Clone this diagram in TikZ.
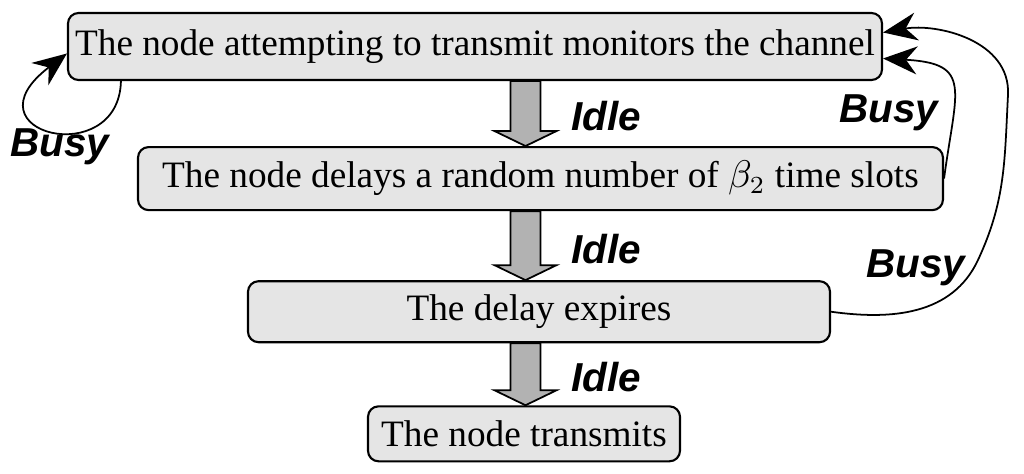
\documentclass[tikz,border=0pt]{standalone}
\usepackage{fontspec}
\setmainfont{Liberation Serif}
\newfontfamily\labelfont{Liberation Sans}
\usetikzlibrary{arrows.meta,positioning,calc}
\definecolor{boxgray}{RGB}{229,229,229}
\definecolor{arrowgray}{RGB}{178,178,178}
\tikzset{
stepbox/.style={draw,line width=0.6pt,fill=boxgray,rounded corners=3pt,inner sep=2pt,font=\fontsize{10.6}{12}\selectfont},
blockarrow/.style={draw,line width=0.5pt,fill=arrowgray},
condlabel/.style={inner sep=1pt,font=\labelfont\fontsize{11.5}{13}\selectfont\bfseries\itshape},
busyline/.style={-{Stealth[length=3.4mm,width=2.8mm]},line width=0.5pt}
}
\newcommand{\idlearrow}[2]{%
\draw[blockarrow] let \p1=(#1 -| axis), \p2=(#2 -| axis) in
(\x1-0.15cm,\y1) -- (\x1+0.15cm,\y1) -- (\x1+0.15cm,\y2+0.15cm) -- (\x1+0.31cm,\y2+0.15cm)
-- (\x1,\y2) -- (\x1-0.31cm,\y2+0.15cm) -- (\x1-0.15cm,\y2+0.15cm) -- cycle;}

\begin{document}
\begin{tikzpicture}
\useasboundingbox (0,0) rectangle (10.24,-4.74);
\coordinate (axis) at (5.255,0);
\node[stepbox,minimum width=8.14cm,minimum height=0.67cm] (monitor) at (4.75,-0.465) {The node attempting to transmit monitors the channel};
\node[stepbox,minimum width=8.05cm,minimum height=0.63cm,below=0.65cm of monitor,xshift=6.55mm] (delay) {The node delays a random number of $\beta_2$ time slots};
\node[stepbox,minimum width=5.82cm,minimum height=0.61cm,below=0.69cm of delay,xshift=-0.15mm] (expire) {The delay expires};
\node[stepbox,minimum width=3.12cm,minimum height=0.55cm,below=0.62cm of expire,xshift=-1.5mm] (transmit) {The node transmits};
% idle transitions
\idlearrow{monitor.south}{delay.north}
\idlearrow{delay.south}{expire.north}
\idlearrow{expire.south}{transmit.north}
\node[condlabel,anchor=west,xshift=4.2mm,yshift=-0.3mm] (idle1) at ($(monitor.south -| axis)!0.5!(delay.north -| axis)$) {Idle};
\node[condlabel,anchor=west,xshift=4.2mm,yshift=-0.3mm] (idle2) at ($(delay.south -| axis)!0.5!(expire.north -| axis)$) {Idle};
\node[condlabel,anchor=west,xshift=4.2mm,yshift=-0.3mm] (idle3) at ($(expire.south -| axis)!0.5!(transmit.north -| axis)$) {Idle};
% busy loops
\draw[busyline] ($(monitor.south west)+(0.54,0)$) .. controls +(-0.02,-0.9) and +(-1.05,-0.8) .. ($(monitor.west)+(0,-0.07)$);
\draw[busyline] (delay.east) .. controls +(0.12,0.9) and +(0.9,-0.05) .. ($(monitor.east)+(0,-0.12)$);
\draw[busyline] (expire.east) to[out=-8,in=-115] (9.78,-2.6) to[out=65,in=-93] (10.08,-0.95) to[out=87,in=10] ($(monitor.east)+(0,0.14)$);
\node[condlabel] (busy1) at (0.60,-1.47) {Busy};
\node[condlabel] (busy2) at (8.89,-1.13) {Busy};
\node[condlabel] (busy3) at (9.16,-2.68) {Busy};
\end{tikzpicture}
\end{document}
